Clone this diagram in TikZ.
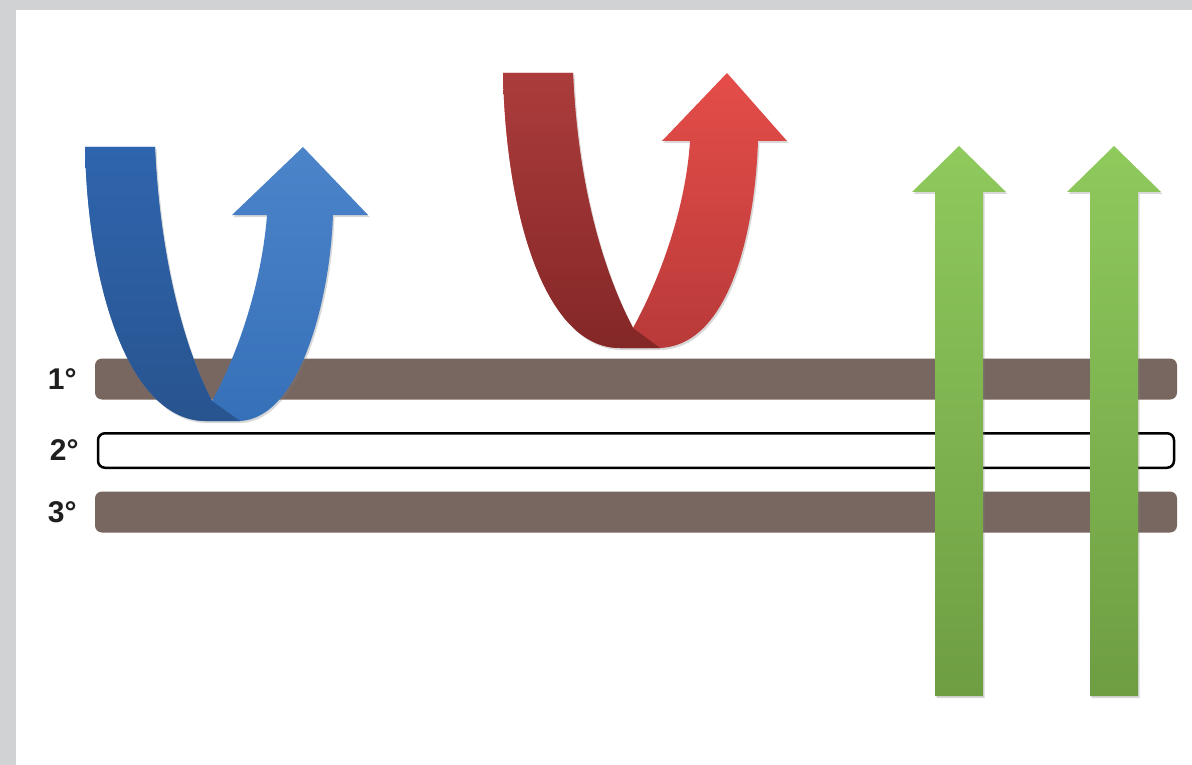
\documentclass[tikz,border=0pt]{standalone}
\usepackage{fontspec}
\setmainfont{Liberation Sans}
\usetikzlibrary{positioning, shadows}

\definecolor{framegray}{HTML}{D1D2D4}
\definecolor{layerbrown}{HTML}{786660}
\definecolor{bluetop}{HTML}{4C84CA}
\definecolor{bluelow}{HTML}{3670B8}
\definecolor{bluedarktop}{HTML}{2F65AE}
\definecolor{bluedarklow}{HTML}{28548F}
\definecolor{redtop}{HTML}{E54D49}
\definecolor{redlow}{HTML}{B83A39}
\definecolor{reddarktop}{HTML}{AC3C3C}
\definecolor{reddarklow}{HTML}{842727}
\definecolor{greentop}{HTML}{8FCA5D}
\definecolor{greenlow}{HTML}{6E9D42}

\tikzset{
  layer/.style = {rounded corners = 7pt, minimum width = 1082pt, minimum height = 41pt, inner sep = 0pt},
  brownlayer/.style = {layer, fill = layerbrown},
  openlayer/.style = {layer, draw = black, line width = 2.5pt, fill = white,
                      minimum width = 1076pt, minimum height = 34.5pt},
  grade/.style = {font = \fontsize{30}{32}\selectfont\bfseries, text = black!88, inner sep = 0pt},
  ribbon/.style = {drop shadow = {opacity = .3, shadow xshift = 1.5pt, shadow yshift = -2pt}},
  uparrow/.style = {ribbon, top color = greentop, bottom color = greenlow}
}

\begin{document}
\begin{tikzpicture}[x = 1pt, y = -1pt]
  \useasboundingbox (0,0) rectangle (1192,765);
  \fill[white] (0,0) rectangle (1192,765);
  \fill[framegray] (0,0) rectangle (1192,10);
  \fill[framegray] (0,0) rectangle (16,765);

  % layers
  \foreach \n/\y/\s in {1/379/brownlayer, 2/450.5/openlayer, 3/512/brownlayer} {
    \node[\s] (bar\n) at (636,\y) {};
    \node[grade, left = 18pt of bar\n] (grade\n) {\n°};
  }

  % blue ribbon
  \path[ribbon, top color = bluetop, bottom color = bluelow]
    (85,147) -- (155,147) .. controls (160,260) and (185,350) .. (212,401)
    .. controls (240,350) and (262,280) .. (267,215) -- (232,215) -- (303,147)
    -- (368,215) -- (333,215) .. controls (330,300) and (300,418) .. (240,421)
    -- (205,421) .. controls (130,420) and (88,290) .. (85,147) -- cycle;
  \path[top color = bluedarktop, bottom color = bluedarklow]
    (85,147) -- (155,147) .. controls (160,260) and (185,350) .. (212,401)
    -- (240,421) -- (205,421) .. controls (130,420) and (88,290) .. (85,147) -- cycle;

  % red ribbon
  \path[ribbon, top color = redtop, bottom color = redlow]
    (503,73) -- (573,73) .. controls (578,190) and (605,275) .. (633,328)
    .. controls (662,275) and (686,205) .. (690,141) -- (662,141) -- (727,73)
    -- (787,141) -- (758,141) .. controls (755,230) and (730,345) .. (660,348)
    -- (620,348) .. controls (545,348) and (506,215) .. (503,73) -- cycle;
  \path[top color = reddarktop, bottom color = reddarklow]
    (503,73) -- (573,73) .. controls (578,190) and (605,275) .. (633,328)
    -- (660,348) -- (620,348) .. controls (545,348) and (506,215) .. (503,73) -- cycle;

  % straight arrows
  \foreach \x in {959, 1114}
    \path[uparrow] (\x-24,696) -- (\x-24,192) -- (\x-47,192) -- (\x,146)
      -- (\x+47,192) -- (\x+24,192) -- (\x+24,696) -- cycle;
\end{tikzpicture}
\end{document}
